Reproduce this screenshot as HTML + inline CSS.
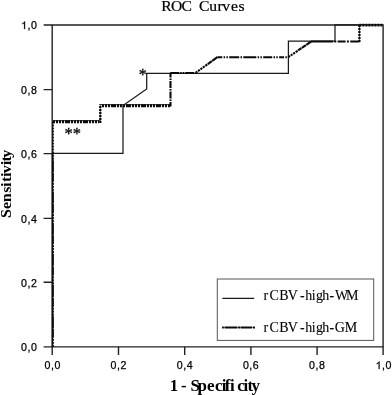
<!DOCTYPE html>
<html><head><meta charset="utf-8">
<style>
html,body{margin:0;padding:0;background:#fff;}
body{width:392px;height:395px;overflow:hidden;position:relative;}
svg{position:absolute;left:0;top:0;display:block;filter:grayscale(1);}
.t{font-family:"Liberation Sans",sans-serif;font-size:10.6px;fill:#000;stroke:#000;stroke-width:0.25;letter-spacing:0.55px;}
.s{font-family:"Liberation Serif",serif;fill:#000;stroke:#000;stroke-width:0.2;}
</style></head><body>
<svg width="392" height="395" viewBox="0 0 392 395">
<rect width="392" height="395" fill="#fff"/>
<!-- frame -->
<g stroke="#222" stroke-width="1.4" fill="none">
<path d="M52.2 24.95 H383.1 V346.85 H52.2 Z"/>
<!-- y ticks -->
<path d="M43.6 24.95H52.2 M43.6 89.6H52.2 M43.6 153.6H52.2 M43.6 218.4H52.2 M43.6 282.3H52.2 M43.6 346.85H52.2"/>
<!-- x ticks -->
<path d="M52.2 346.85V354.9 M118.5 346.85V354.9 M184.7 346.85V354.9 M250.9 346.85V354.9 M317.1 346.85V354.9 M383.1 346.85V354.9"/>
</g>
<!-- solid curve WM -->
<path d="M52.4 346.85 V153.3 H123 V105.5 L146.7 89 V73.3 H288.4 V41 H335 V24.95 H383.1" stroke="#1a1a1a" stroke-width="1.25" fill="none"/>
<!-- dash-dot curve GM : thin solid underlay -->
<path d="M52.6 120.6 H101 M99.6 104.6 H170.2" stroke="#4a4a4a" stroke-width="1.1" fill="none"/>
<path d="M100.3 121 V105" stroke="#666" stroke-width="1" fill="none"/>
<path d="M359.5 41.6 V25.4 H383.1" stroke="#666" stroke-width="1" fill="none"/>
<!-- dash-dot curve GM : patterned -->
<g stroke="#0a0a0a" stroke-width="2.3" fill="none">
<path d="M53 346.85 V153.5" stroke-width="1.8" stroke-dasharray="2.2 0.8 2.2 0.8 2.2 0.8 9 0.6 12 0.6"/>
<path d="M53 153.5 V121.6" stroke-width="1.8" stroke-dasharray="2 1"/>
<path d="M53 121.7 H99" stroke-width="2.9" stroke-dasharray="2 1 2 1 2 1 2 1 5 1"/>
<path d="M100.3 123 V104.4" stroke-dasharray="2 1"/>
<path d="M102 105.7 H170.2" stroke-width="2.9" stroke-dasharray="2 1 2 1 2 1 5 1"/>
<path d="M170.5 106.6 V72.4" stroke-width="2.1" stroke-dasharray="4.5 1 1.5 1 7 1 1.5 1 7 1 1.5 1"/>
<path d="M170.2 73.1 H195.5" stroke-width="2" stroke-dasharray="9 1 1.5 1 1.5 1"/>
<path d="M195.6 72.8 L217.3 57.2" stroke-width="2.1" stroke-dasharray="2.2 0.8 2.2 0.8 2.2 0.8 2.2 0.8 2.4 0.6 5 0.5 9"/>
<path d="M217.3 57.2 H288.2" stroke-width="2" stroke-dasharray="5 1.3 1.5 1.3 1.5 1.3 10 1.3 1.5 1.3 13 1.3 1.5 1.3 1.5 1.3 9 1.3 1.5 1.3 1.5 1.3"/>
<path d="M288.2 57.2 L311 41.6" stroke-width="2.1" stroke-dasharray="2.2 0.8 2.2 0.8 2.2 0.8 2.4 0.6 4 0.5 5 0.5 9"/>
<path d="M311 41.6 H359.4" stroke-width="2" stroke-dasharray="22 1.3 2 1.3 8 1.3 2 1.3"/>
<path d="M359.4 42 V25.2" stroke-dasharray="2 1"/>
<path d="M359.4 25.2 H383.1" stroke-width="2.8" stroke-dasharray="2 1"/>
</g>
<!-- legend -->
<rect x="217.3" y="279" width="156.4" height="61.4" fill="#fff" stroke="#555" stroke-width="1"/>
<path d="M222.4 298.4H254.2" stroke="#1a1a1a" stroke-width="1.25"/>
<path d="M222 327.5H255" stroke="#888" stroke-width="1.2"/><path d="M222 327.5H255" stroke="#0a0a0a" stroke-width="2.1" stroke-dasharray="1.8 0.8 12.7 0.9 2.1 0.6 11.2 0.9 2"/>
<text class="s" x="263.6 269.6 279.3 287.8 300 305.3 311.7 315.9 322.3 329.5 334.9 346.1" y="300.3" font-size="14" style="stroke-width:0.08;font-variant-ligatures:none">rCBV-high-WM</text>
<text class="s" x="263.6 269.6 279.3 287.8 300 305.3 311.7 315.9 322.3 329.5 334.7 344.8" y="331.5" font-size="14" style="stroke-width:0.08;font-variant-ligatures:none">rCBV-high-GM</text>
<!-- title -->
<text class="s" transform="scale(1.1 1)" x="146.64 155.45 165.00 173.64 180.91 190.18 197.73 202.09 210.00 216.82" y="11.4" font-size="14.2" style="stroke-width:0.22;font-variant-ligatures:none">ROC Curves</text>
<!-- y tick labels -->
<g class="t" text-anchor="end">
<path d="M763 0 H583 V1147 Q518 1085 412.5 1023 Q307 961 223 930 V1104 Q374 1175 487 1276 Q600 1377 647 1472 H763 Z" transform="translate(21.11 29) scale(0.005176 -0.005176)" fill="#000" stroke="#000" stroke-width="46"/><text x="27.55" y="29" text-anchor="start">,0</text>
<text x="37.5" y="93.9">0,8</text>
<text x="37.5" y="157.8">0,6</text>
<text x="37.5" y="223.2">0,4</text>
<text x="37.5" y="286.5">0,2</text>
<text x="37.5" y="351.3">0,0</text>
</g>
<!-- x tick labels -->
<g class="t" text-anchor="middle">
<text x="52.8" y="369">0,0</text>
<text x="118.7" y="369">0,2</text>
<text x="184.9" y="369">0,4</text>
<text x="251.1" y="369">0,6</text>
<text x="317.3" y="369">0,8</text>
<path d="M763 0 H583 V1147 Q518 1085 412.5 1023 Q307 961 223 930 V1104 Q374 1175 487 1276 Q600 1377 647 1472 H763 Z" transform="translate(375.6 369) scale(0.005176 -0.005176)" fill="#000" stroke="#000" stroke-width="46"/><text x="382.04" y="369" text-anchor="start">,0</text>
</g>
<!-- axis titles -->
<text class="s" transform="scale(1.06 1)" x="160.19 167.74 170.75 175.75 179.62 186.42 195.38 202.92 209.15 211.98 216.98 223.87 229.72 233.49 237.17" y="391" font-size="16" font-weight="bold" style="stroke-width:0;font-variant-ligatures:none">1 - Specificity</text>
<text class="s" transform="translate(11.3 218) rotate(-90) scale(1.07 1)" font-size="15" font-weight="bold" style="stroke-width:0;font-variant-ligatures:none" x="0.00 8.41 14.67 23.64 28.88 33.55 38.32 41.78 49.35 52.90 56.26">Sensitivity</text>
<!-- annotations -->
<text class="s" x="64.4" y="138.5" font-size="16.5" style="stroke-width:0.3">**</text>
<text class="s" x="138.7" y="80.2" font-size="16" style="stroke-width:0.3">*</text>
</svg>
</body></html>
